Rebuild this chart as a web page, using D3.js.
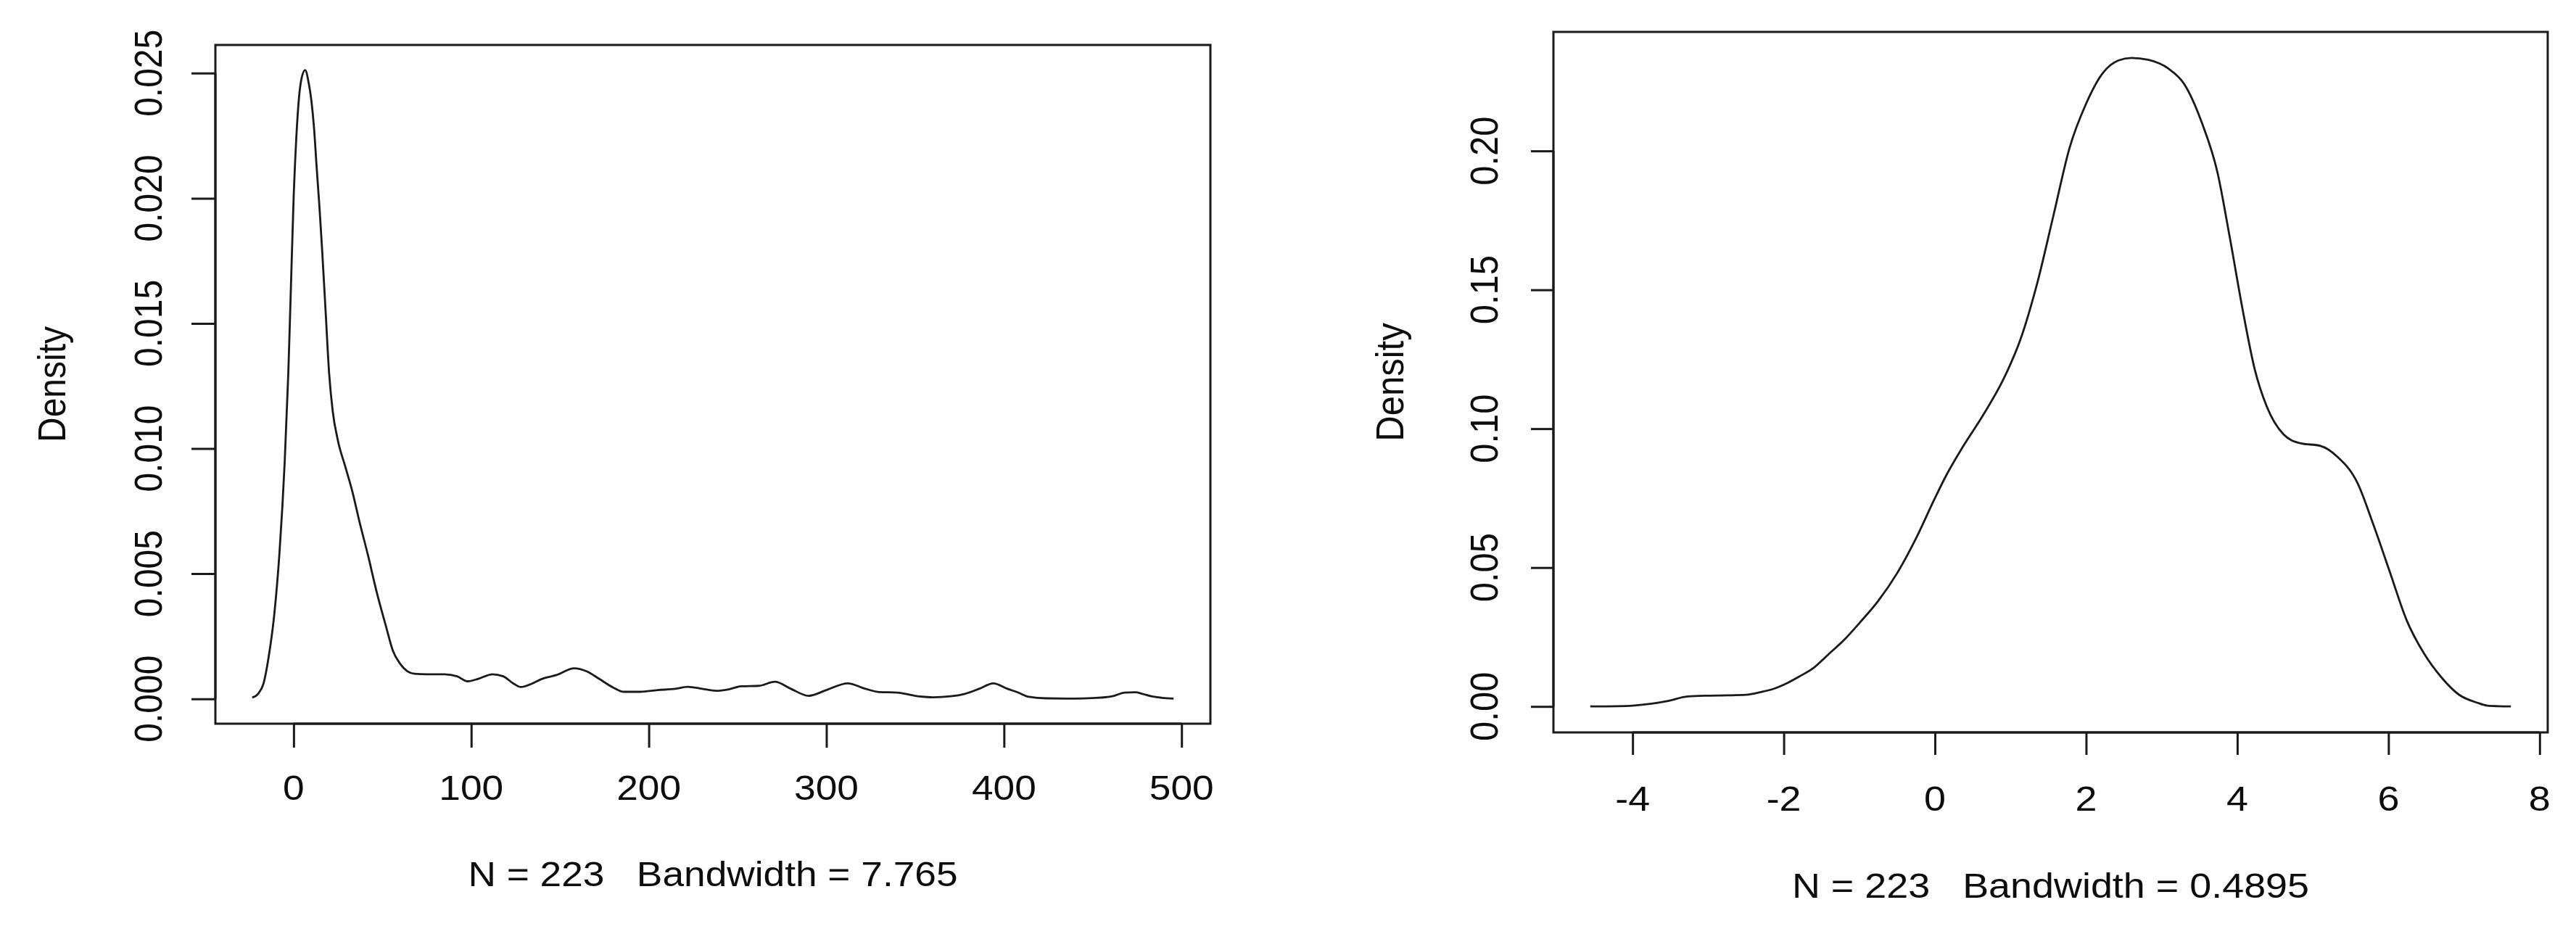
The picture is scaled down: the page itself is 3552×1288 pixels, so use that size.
<!DOCTYPE html>
<html><head><meta charset="utf-8">
<script src="https://cdn.jsdelivr.net/npm/d3@7"></script>
<style>body{margin:0;background:#fff;} svg{display:block;background:#fff;}</style>
</head><body>
<svg id="chart" width="3552" height="1288"></svg>
<script>
// ---------- data: left panel ----------
const leftX = [-23.3,-20,-17,-14,-11,-8,-5,-3,-1.5,0,1.5,3,4.5,6.5,8.5,10,11.5,13,14.5,16,18,20,22,25,29,33,37,42,47,52,56,60,64,68,75,85,92,98,104,112,118,124,128,134,140,148,158,165,172,180,186,195,205,215,222,230,238,245,252,262,271,280,290,300,312,322,330,340,350,360,370,378,386,394,402,408,414,424,440,450,461,468,474,478,483,489,495.5];
const leftY = [0.00005,0.0002,0.0006,0.0017,0.0033,0.0058,0.0095,0.0130,0.0165,0.0200,0.0224,0.0240,0.0248,0.02512,0.0246,0.0239,0.0228,0.0212,0.0197,0.0180,0.0155,0.0130,0.0115,0.0103,0.0093,0.0083,0.0071,0.0057,0.0042,0.0029,0.0019,0.0014,0.0011,0.0010,0.00098,0.00098,0.0009,0.0007,0.0008,0.00098,0.0009,0.0006,0.00047,0.0006,0.0008,0.00095,0.00122,0.0011,0.0008,0.00045,0.00028,0.00028,0.00035,0.0004,0.00048,0.0004,0.00032,0.00038,0.0005,0.00052,0.00068,0.0004,0.00012,0.00035,0.00062,0.0004,0.00027,0.00025,0.00012,0.00006,0.0001,0.0002,0.0004,0.00062,0.0004,0.00025,0.00008,0.00002,0.00001,0.00003,0.0001,0.00025,0.00026,0.0002,0.0001,0.00004,0.00001];
const leftXTicks = [0,100,200,300,400,500];
const leftXTickLabels = ["0","100","200","300","400","500"];
const leftYTicks = [0,0.005,0.010,0.015,0.020,0.025];
const leftYTickLabels = ["0.000","0.005","0.010","0.015","0.020","0.025"];
const leftXTitle = "N = 223   Bandwidth = 7.765";

// ---------- data: right panel ----------
const rightX = [-4.56,-4.2,-4.0,-3.75,-3.53,-3.27,-3.0,-2.75,-2.5,-2.3,-2.13,-1.95,-1.8,-1.6,-1.4,-1.2,-1.0,-0.75,-0.5,-0.25,0.0,0.15,0.37,0.64,0.91,1.13,1.35,1.57,1.78,2.0,2.22,2.43,2.6,2.82,3.09,3.3,3.52,3.74,3.9,4.07,4.23,4.39,4.61,4.83,5.1,5.32,5.59,5.8,6.02,6.24,6.47,6.7,6.93,7.18,7.31,7.45,7.62];
const rightY = [0.0000,0.0001,0.0003,0.0010,0.0020,0.0036,0.0039,0.0040,0.0042,0.0052,0.0064,0.0085,0.0107,0.0140,0.0190,0.0240,0.0300,0.0380,0.0480,0.0605,0.0750,0.0832,0.0935,0.1050,0.1180,0.1320,0.1520,0.1770,0.2010,0.2170,0.2280,0.2326,0.2335,0.2328,0.2296,0.2240,0.2110,0.1920,0.1690,0.1430,0.1215,0.1080,0.0980,0.0948,0.0938,0.0900,0.0805,0.0655,0.0483,0.0311,0.0191,0.0105,0.0043,0.0013,0.0003,0.0001,0.0000];
const rightXTicks = [-4,-2,0,2,4,6,8];
const rightXTickLabels = ["-4","-2","0","2","4","6","8"];
const rightYTicks = [0,0.05,0.10,0.15,0.20];
const rightYTickLabels = ["0.00","0.05","0.10","0.15","0.20"];
const rightXTitle = "N = 223   Bandwidth = 0.4895";
const yTitle = "Density";

const svg = d3.select("#chart");
const INK = "#1a1a1a";

function rExtend(ext) { const d = (ext[1] - ext[0]) * 0.04; return [ext[0] - d, ext[1] + d]; }

function panel(o) {
  const g = svg.append("g");
  const pts = o.xs.map((x, i) => [x, o.ys[i]]);
  const x = d3.scaleLinear().domain(rExtend(d3.extent(o.xs))).range([o.left, o.right]);
  const y = d3.scaleLinear().domain(rExtend([d3.min(o.ys), d3.max(o.ys)])).range([o.bottom, o.top]);

  // curve
  g.append("path").datum(pts)
    .attr("d", d3.line().x(d => x(d[0])).y(d => y(d[1])).curve(d3.curveMonotoneX))
    .attr("fill", "none").attr("stroke", INK).attr("stroke-width", 2.8).attr("stroke-linejoin", "round");

  // box
  g.append("rect").attr("x", o.left).attr("y", o.top)
    .attr("width", o.right - o.left).attr("height", o.bottom - o.top)
    .attr("fill", "none").attr("stroke", INK).attr("stroke-width", 3);

  // x axis ticks
  const xa = d3.axisBottom(x).tickValues(o.xTicks).tickSize(o.tick).tickSizeOuter(0).tickFormat("");
  const gx = g.append("g").attr("transform", `translate(0,${o.bottom})`).call(xa);
  gx.select(".domain").attr("d", `M${x(o.xTicks[0])},0H${x(o.xTicks[o.xTicks.length-1])}`).attr("stroke", INK).attr("stroke-width", 3);
  gx.selectAll(".tick line").attr("stroke", INK).attr("stroke-width", 3);

  const ya = d3.axisLeft(y).tickValues(o.yTicks).tickSize(o.tick).tickSizeOuter(0).tickFormat("");
  const gy = g.append("g").attr("transform", `translate(${o.left},0)`).call(ya);
  gy.select(".domain").attr("d", `M0,${y(o.yTicks[0])}V${y(o.yTicks[o.yTicks.length-1])}`).attr("stroke", INK).attr("stroke-width", 3);
  gy.selectAll(".tick line").attr("stroke", INK).attr("stroke-width", 3);

  const txt = (sel) => sel.attr("font-family", "'Liberation Sans', Arial, Helvetica, sans-serif")
    .attr("font-size", o.font).attr("fill", "#0d0d0d").attr("text-anchor", "middle").style("white-space", "pre");

  // x tick labels
  g.selectAll(".xl").data(o.xTicks).enter().append("text")
    .attr("transform", d => `translate(${x(d)},${o.bottom + o.xLabOff}) scale(${o.sx},1)`)
    .text((d, i) => o.xLabels[i]).call(txt);
  // y tick labels (rotated)
  g.selectAll(".yl").data(o.yTicks).enter().append("text")
    .attr("transform", d => `translate(${o.left - o.yLabOff},${y(d)}) scale(${o.sx},1) rotate(-90)`)
    .text((d, i) => o.yLabels[i]).call(txt);
  // x title
  g.append("text")
    .attr("transform", `translate(${(o.left + o.right) / 2},${o.bottom + o.xTitleOff}) scale(${o.sx},1)`)
    .text(o.xTitle).call(txt);
  // y title
  g.append("text")
    .attr("transform", `translate(${o.left - o.yTitleOff},${(o.top + o.bottom) / 2}) scale(${o.sx},1) rotate(-90)`)
    .text(yTitle).call(txt);
}

panel({ xs: leftX, ys: leftY, left: 297, right: 1669, top: 62, bottom: 998,
  xTicks: leftXTicks, xLabels: leftXTickLabels, yTicks: leftYTicks, yLabels: leftYTickLabels,
  xTitle: leftXTitle, tick: 33, font: 48, sx: 1.11,
  xLabOff: 105, yLabOff: 74, xTitleOff: 224, yTitleOff: 207 });

panel({ xs: rightX, ys: rightY, left: 2142, right: 3513, top: 44, bottom: 1010,
  xTicks: rightXTicks, xLabels: rightXTickLabels, yTicks: rightYTicks, yLabels: rightYTickLabels,
  xTitle: rightXTitle, tick: 31, font: 49, sx: 1.1,
  xLabOff: 108, yLabOff: 77, xTitleOff: 228, yTitleOff: 207 });
</script>
</body></html>
